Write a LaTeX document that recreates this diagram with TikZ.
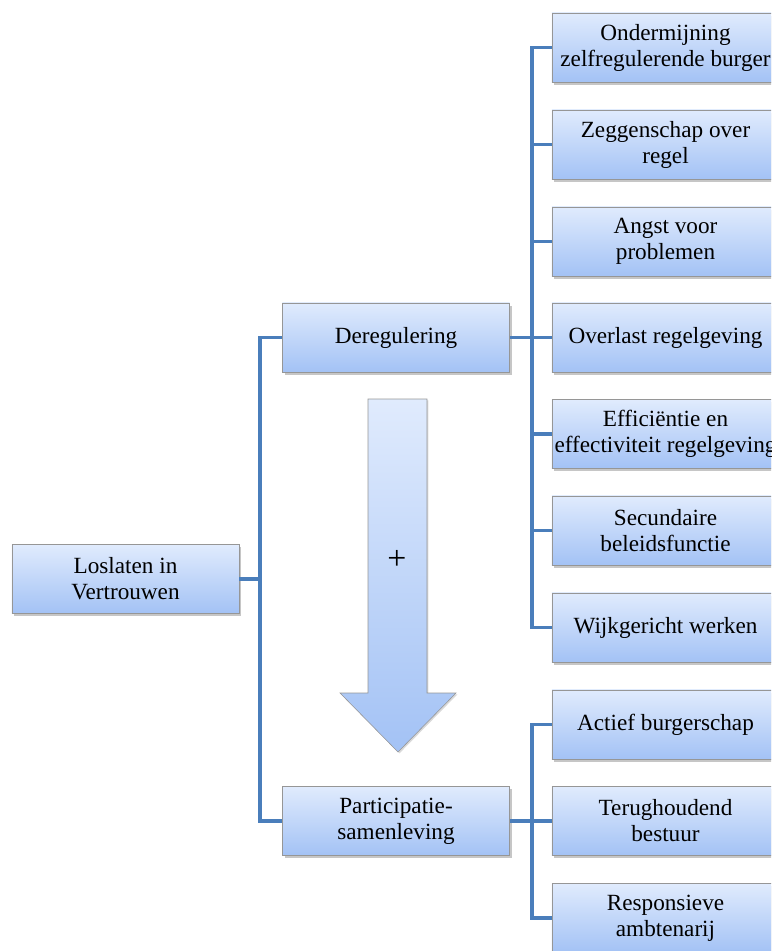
\documentclass[tikz,border=0pt]{standalone}
\usepackage{fontspec}
\setmainfont{Liberation Serif}
\usepackage{tikz}
\usetikzlibrary{shadows,positioning}
\definecolor{lvtop}{RGB}{224,235,253}
\definecolor{lvbottom}{RGB}{163,194,245}
\definecolor{lvline}{RGB}{74,126,187}
\definecolor{lvborder}{RGB}{150,150,150}
\tikzstyle{link} = [line width=2.8pt, color=lvline]
\tikzstyle{topicbox} = [rectangle, minimum width=5.675cm, minimum height=1.725cm, align=center, draw=lvborder, top color=lvtop, bottom color=lvbottom, drop shadow={opacity=0.45, shadow xshift=1.5pt, shadow yshift=-2pt}, font=\rmfamily\fontsize{16.5}{18.5}\selectfont, inner sep=0pt]

\begin{document}
\begin{tikzpicture}[x=0.025cm, y=-0.025cm]
\useasboundingbox (0,0) rectangle (771,951);
\clip (0,0) rectangle (771,951);
% main branches
\node[topicbox] (root) at (125.5,579) {Loslaten in\\Vertrouwen};
\node[topicbox] (dereg) at (396,337.5) {Deregulering};
\node[topicbox] (part) at (396,821) {Participatie-\\samenleving};
% deregulering items
\node[topicbox] (d1) at (665.5,47.5) {Ondermijning\\zelfregulerende burger};
\node[topicbox] (d2) at (665.5,144.5) {Zeggenschap over\\regel};
\node[topicbox] (d3) at (665.5,241.5) {Angst voor\\problemen};
\node[topicbox] (d4) at (665.5,337.5) {Overlast regelgeving};
\node[topicbox] (d5) at (665.5,434) {Efficiëntie en\\effectiviteit regelgeving};
\node[topicbox] (d6) at (665.5,530.5) {Secundaire\\beleidsfunctie};
\node[topicbox] (d7) at (665.5,627.5) {Wijkgericht werken};
% participatie items
\node[topicbox] (p1) at (665.5,724.5) {Actief burgerschap};
\node[topicbox] (p2) at (665.5,821) {Terughoudend\\bestuur};
\node[topicbox] (p3) at (665.5,918) {Responsieve\\ambtenarij};

\draw[link] (root.east) -- ++(21,0) coordinate (rootfork);
\draw[link] (rootfork) |- (dereg.west);
\draw[link] (rootfork) |- (part.west);
\draw[link] (dereg.east) -- ++(22,0) coordinate (deregfork);
\foreach \i in {1,...,7}
  \draw[link] (deregfork) |- (d\i.west);
\draw[link] (part.east) -- ++(22,0) coordinate (partfork);
\foreach \i in {1,2,3}
  \draw[link] (partfork) |- (p\i.west);

% big arrow
\shade[top color=lvtop, bottom color=lvbottom, draw=lvborder, drop shadow={opacity=0.3, shadow xshift=1pt, shadow yshift=-1pt}]
  (368,399) -- (427,399) -- (427,693) -- (456,693) -- (398,752) -- (340,693) -- (368,693) -- cycle;
\node[font=\rmfamily\fontsize{24}{26}\selectfont] (plus) at (397,560) {+};
\end{tikzpicture}
\end{document}
